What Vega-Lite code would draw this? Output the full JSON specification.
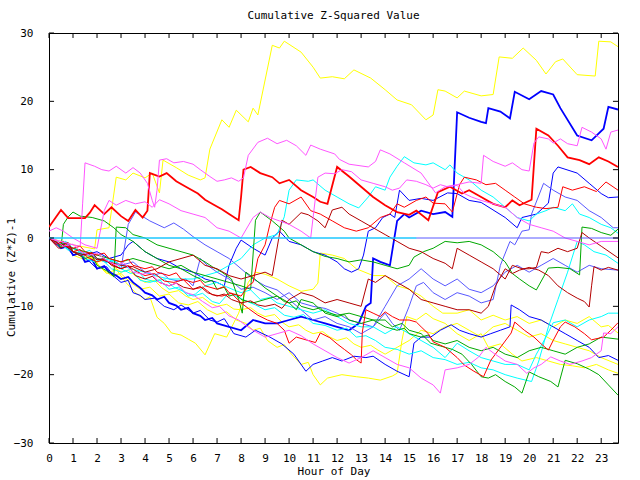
{
"$schema":"https://vega.github.io/schema/vega-lite/v6.json",
"width":569,"height":410,
"autosize":{"type":"none"},
"padding":{"left":49,"top":33,"right":22,"bottom":37},
"background":"white",
"title":{"text":"Cumulative Z-Squared Value","font":"DejaVu Sans Mono","fontSize":11,"fontWeight":"normal","color":"black","offset":6},
"config":{"view":{"stroke":"black","strokeWidth":1},"axis":{"labelFont":"DejaVu Sans Mono","titleFont":"DejaVu Sans Mono","labelFontSize":11,"titleFontSize":11,"titleFontWeight":"normal","labelColor":"black","titleColor":"black","domain":false,"grid":false,"ticks":false,"tickSize":0}},
"resolve":{"axis":{"x":"independent","y":"independent"}},
"layer":[
{"data":{"values":[
{"s":"Y1","h":0,"v":0},{"s":"Y1","h":1,"v":-1},{"s":"Y1","h":1.9,"v":-1.6},{"s":"Y1","h":2,"v":1.2},{"s":"Y1","h":2.5,"v":1.5},{"s":"Y1","h":2.8,"v":8.9},{"s":"Y1","h":3.2,"v":8.5},{"s":"Y1","h":3.5,"v":9.5},{"s":"Y1","h":4,"v":8.8},{"s":"Y1","h":4.3,"v":9.5},{"s":"Y1","h":4.6,"v":6.6},{"s":"Y1","h":4.75,"v":11.4},{"s":"Y1","h":5.3,"v":10.3},{"s":"Y1","h":5.8,"v":9.2},{"s":"Y1","h":6.3,"v":8.5},{"s":"Y1","h":6.5,"v":8.8},{"s":"Y1","h":6.7,"v":13},{"s":"Y1","h":7.2,"v":17.3},{"s":"Y1","h":7.5,"v":16.2},{"s":"Y1","h":7.8,"v":18.7},{"s":"Y1","h":8.3,"v":17},{"s":"Y1","h":8.5,"v":19},{"s":"Y1","h":8.7,"v":18},{"s":"Y1","h":9.3,"v":28.2},{"s":"Y1","h":9.6,"v":27.8},{"s":"Y1","h":9.8,"v":28.8},{"s":"Y1","h":10.5,"v":27.2},{"s":"Y1","h":11,"v":25},{"s":"Y1","h":11.3,"v":23.4},{"s":"Y1","h":11.8,"v":23.6},{"s":"Y1","h":12.3,"v":23.3},{"s":"Y1","h":12.7,"v":24.6},{"s":"Y1","h":13.4,"v":23.4},{"s":"Y1","h":14,"v":21.7},{"s":"Y1","h":14.5,"v":20.2},{"s":"Y1","h":15.1,"v":19.5},{"s":"Y1","h":15.7,"v":17.3},{"s":"Y1","h":16,"v":18},{"s":"Y1","h":16.2,"v":21.7},{"s":"Y1","h":16.5,"v":21.5},{"s":"Y1","h":17,"v":20.5},{"s":"Y1","h":17.3,"v":21.5},{"s":"Y1","h":18,"v":20.8},{"s":"Y1","h":18.5,"v":21},{"s":"Y1","h":18.75,"v":26.5},{"s":"Y1","h":19.3,"v":26.3},{"s":"Y1","h":19.75,"v":27.8},{"s":"Y1","h":20.3,"v":26},{"s":"Y1","h":20.7,"v":24},{"s":"Y1","h":21.1,"v":25.8},{"s":"Y1","h":21.4,"v":26.2},{"s":"Y1","h":22,"v":23.9},{"s":"Y1","h":22.75,"v":23.7},{"s":"Y1","h":22.9,"v":28.8},{"s":"Y1","h":23.4,"v":28.7},{"s":"Y1","h":23.7,"v":28},
{"s":"Y2","h":0,"v":0},{"s":"Y2","h":0.3,"v":-0.8},{"s":"Y2","h":0.6,"v":-0.5},{"s":"Y2","h":1,"v":-2},{"s":"Y2","h":1.4,"v":-2.8},{"s":"Y2","h":1.7,"v":-2.4},{"s":"Y2","h":2,"v":-3.8},{"s":"Y2","h":2.4,"v":-5.2},{"s":"Y2","h":2.8,"v":-4.6},{"s":"Y2","h":3.2,"v":-6.5},{"s":"Y2","h":3.6,"v":-8},{"s":"Y2","h":4,"v":-9},{"s":"Y2","h":4.2,"v":-8.6},{"s":"Y2","h":4.5,"v":-11.6},{"s":"Y2","h":4.8,"v":-12.5},{"s":"Y2","h":5.1,"v":-13.9},{"s":"Y2","h":5.5,"v":-14.2},{"s":"Y2","h":5.8,"v":-14.8},{"s":"Y2","h":6.1,"v":-15.4},{"s":"Y2","h":6.5,"v":-17.1},{"s":"Y2","h":6.9,"v":-14},{"s":"Y2","h":7.4,"v":-14.5},{"s":"Y2","h":7.9,"v":-11},{"s":"Y2","h":8.3,"v":-6.5},{"s":"Y2","h":8.6,"v":-5},{"s":"Y2","h":9,"v":-5.3},{"s":"Y2","h":9.5,"v":-6},{"s":"Y2","h":10,"v":-7},{"s":"Y2","h":10.5,"v":-7.8},{"s":"Y2","h":11,"v":-7.5},{"s":"Y2","h":11.2,"v":-6.6},{"s":"Y2","h":11.3,"v":-2.2},{"s":"Y2","h":11.8,"v":-2.5},{"s":"Y2","h":12.3,"v":-3},{"s":"Y2","h":12.8,"v":-4.5},{"s":"Y2","h":13.5,"v":-5.5},{"s":"Y2","h":14,"v":-5.5},{"s":"Y2","h":14.5,"v":-7},{"s":"Y2","h":15,"v":-7.5},{"s":"Y2","h":15.5,"v":-8.5},{"s":"Y2","h":16,"v":-10},{"s":"Y2","h":16.4,"v":-11},{"s":"Y2","h":17,"v":-11},{"s":"Y2","h":17.5,"v":-10.5},{"s":"Y2","h":18,"v":-12},{"s":"Y2","h":18.5,"v":-11.3},{"s":"Y2","h":19,"v":-12},{"s":"Y2","h":19.5,"v":-11.5},{"s":"Y2","h":20,"v":-12.5},{"s":"Y2","h":20.5,"v":-12},{"s":"Y2","h":21,"v":-13},{"s":"Y2","h":21.5,"v":-12},{"s":"Y2","h":22,"v":-12.5},{"s":"Y2","h":22.5,"v":-11.5},{"s":"Y2","h":23,"v":-13},{"s":"Y2","h":23.3,"v":-12.8},{"s":"Y2","h":23.7,"v":-13.9},
{"s":"Y3","h":0,"v":0},{"s":"Y3","h":0.4,"v":-1.2},{"s":"Y3","h":0.7,"v":-0.8},{"s":"Y3","h":1,"v":-2.5},{"s":"Y3","h":1.5,"v":-3.2},{"s":"Y3","h":1.8,"v":-2.8},{"s":"Y3","h":2.2,"v":-4.5},{"s":"Y3","h":2.6,"v":-5.5},{"s":"Y3","h":3,"v":-5.2},{"s":"Y3","h":3.4,"v":-6.5},{"s":"Y3","h":3.8,"v":-7.5},{"s":"Y3","h":4.2,"v":-7.2},{"s":"Y3","h":4.6,"v":-8.5},{"s":"Y3","h":5,"v":-8.2},{"s":"Y3","h":5.4,"v":-9.5},{"s":"Y3","h":5.8,"v":-9.8},{"s":"Y3","h":6.2,"v":-9.3},{"s":"Y3","h":6.6,"v":-10.5},{"s":"Y3","h":7,"v":-11.2},{"s":"Y3","h":7.4,"v":-10.8},{"s":"Y3","h":7.8,"v":-12},{"s":"Y3","h":8.2,"v":-12.5},{"s":"Y3","h":8.5,"v":-13.5},{"s":"Y3","h":8.8,"v":-13.2},{"s":"Y3","h":9.1,"v":-15},{"s":"Y3","h":9.5,"v":-16},{"s":"Y3","h":9.8,"v":-15.6},{"s":"Y3","h":10.1,"v":-17},{"s":"Y3","h":10.5,"v":-18.5},{"s":"Y3","h":10.8,"v":-18.2},{"s":"Y3","h":11,"v":-20},{"s":"Y3","h":11.3,"v":-21.5},{"s":"Y3","h":11.6,"v":-20.5},{"s":"Y3","h":12.2,"v":-20},{"s":"Y3","h":12.8,"v":-20.3},{"s":"Y3","h":13.3,"v":-20.5},{"s":"Y3","h":13.8,"v":-20.8},{"s":"Y3","h":14.3,"v":-20.2},{"s":"Y3","h":14.5,"v":-19.8},{"s":"Y3","h":14.7,"v":-15},{"s":"Y3","h":14.9,"v":-11.5},{"s":"Y3","h":15.3,"v":-12},{"s":"Y3","h":15.7,"v":-11},{"s":"Y3","h":16,"v":-11.8},{"s":"Y3","h":16.5,"v":-12.5},{"s":"Y3","h":17,"v":-14},{"s":"Y3","h":17.5,"v":-15},{"s":"Y3","h":18,"v":-14},{"s":"Y3","h":18.3,"v":-16},{"s":"Y3","h":18.8,"v":-15.5},{"s":"Y3","h":19.3,"v":-17},{"s":"Y3","h":19.7,"v":-18},{"s":"Y3","h":20.3,"v":-17.5},{"s":"Y3","h":20.8,"v":-18},{"s":"Y3","h":21.3,"v":-18.5},{"s":"Y3","h":21.8,"v":-18.7},{"s":"Y3","h":22.3,"v":-19},{"s":"Y3","h":22.8,"v":-18.5},{"s":"Y3","h":23.3,"v":-19.3},{"s":"Y3","h":23.7,"v":-19.8},
{"s":"Y4","h":0,"v":0},{"s":"Y4","h":0.4,"v":-0.6},{"s":"Y4","h":0.7,"v":-1.4},{"s":"Y4","h":1,"v":-2},{"s":"Y4","h":1.3,"v":-1.7},{"s":"Y4","h":1.7,"v":-2.8},{"s":"Y4","h":2,"v":-3.5},{"s":"Y4","h":2.4,"v":-3.2},{"s":"Y4","h":2.7,"v":-4.2},{"s":"Y4","h":3,"v":-5},{"s":"Y4","h":3.3,"v":-4.7},{"s":"Y4","h":3.7,"v":-5.8},{"s":"Y4","h":4,"v":-6.5},{"s":"Y4","h":4.4,"v":-6.2},{"s":"Y4","h":4.7,"v":-7.3},{"s":"Y4","h":5,"v":-8},{"s":"Y4","h":5.4,"v":-7.7},{"s":"Y4","h":5.7,"v":-8.5},{"s":"Y4","h":6,"v":-9},{"s":"Y4","h":6.4,"v":-8.7},{"s":"Y4","h":6.7,"v":-9.5},{"s":"Y4","h":7,"v":-10},{"s":"Y4","h":7.4,"v":-9.7},{"s":"Y4","h":7.7,"v":-10.4},{"s":"Y4","h":8,"v":-10.5},{"s":"Y4","h":8.4,"v":-10.2},{"s":"Y4","h":8.7,"v":-11},{"s":"Y4","h":9,"v":-11.5},{"s":"Y4","h":9.4,"v":-11.2},{"s":"Y4","h":9.7,"v":-12.3},{"s":"Y4","h":10,"v":-13},{"s":"Y4","h":10.4,"v":-12.7},{"s":"Y4","h":10.7,"v":-13.5},{"s":"Y4","h":11,"v":-14},{"s":"Y4","h":11.4,"v":-13.7},{"s":"Y4","h":11.7,"v":-14.5},{"s":"Y4","h":12,"v":-15},{"s":"Y4","h":12.4,"v":-14.6},{"s":"Y4","h":12.7,"v":-15.5},{"s":"Y4","h":13,"v":-16},{"s":"Y4","h":13.4,"v":-15.7},{"s":"Y4","h":13.7,"v":-16.4},{"s":"Y4","h":14,"v":-17},{"s":"Y4","h":14.5,"v":-16},{"s":"Y4","h":15,"v":-15},{"s":"Y4","h":15.5,"v":-13.5},{"s":"Y4","h":16,"v":-14},{"s":"Y4","h":16.5,"v":-13},{"s":"Y4","h":17,"v":-12.5},{"s":"Y4","h":17.5,"v":-13.5},{"s":"Y4","h":18,"v":-14.5},{"s":"Y4","h":18.5,"v":-13},{"s":"Y4","h":19,"v":-12.5},{"s":"Y4","h":19.5,"v":-13.5},{"s":"Y4","h":20,"v":-14.5},{"s":"Y4","h":20.5,"v":-14},{"s":"Y4","h":21,"v":-15},{"s":"Y4","h":21.5,"v":-15.5},{"s":"Y4","h":22,"v":-16},{"s":"Y4","h":22.5,"v":-16.5},{"s":"Y4","h":23,"v":-17.5},{"s":"Y4","h":23.7,"v":-18.5},
{"s":"B1","h":0,"v":0},{"s":"B1","h":0.3,"v":-0.7},{"s":"B1","h":0.5,"v":-1.5},{"s":"B1","h":0.8,"v":-1.2},{"s":"B1","h":1,"v":-2.5},{"s":"B1","h":1.3,"v":-2.2},{"s":"B1","h":1.5,"v":-3.5},{"s":"B1","h":1.8,"v":-3.2},{"s":"B1","h":2,"v":-4.5},{"s":"B1","h":2.3,"v":-4.1},{"s":"B1","h":2.5,"v":-5},{"s":"B1","h":2.8,"v":-5.5},{"s":"B1","h":3,"v":-6},{"s":"B1","h":3.3,"v":-5.7},{"s":"B1","h":3.5,"v":-6.5},{"s":"B1","h":3.8,"v":-7.3},{"s":"B1","h":4,"v":-8},{"s":"B1","h":4.3,"v":-8.4},{"s":"B1","h":4.5,"v":-9},{"s":"B1","h":4.8,"v":-8.6},{"s":"B1","h":5,"v":-9.5},{"s":"B1","h":5.3,"v":-9.9},{"s":"B1","h":5.5,"v":-10.5},{"s":"B1","h":5.8,"v":-10.2},{"s":"B1","h":6,"v":-11},{"s":"B1","h":6.3,"v":-11.4},{"s":"B1","h":6.5,"v":-12},{"s":"B1","h":6.8,"v":-11.7},{"s":"B1","h":7,"v":-12.5},{"s":"B1","h":7.5,"v":-13},{"s":"B1","h":8,"v":-13.5},{"s":"B1","h":8.5,"v":-12},{"s":"B1","h":9,"v":-12.5},{"s":"B1","h":9.5,"v":-12.5},{"s":"B1","h":10,"v":-12},{"s":"B1","h":10.5,"v":-11.5},{"s":"B1","h":11,"v":-12},{"s":"B1","h":11.5,"v":-12.5},{"s":"B1","h":12,"v":-13},{"s":"B1","h":12.5,"v":-13.5},{"s":"B1","h":12.9,"v":-12.5},{"s":"B1","h":13.2,"v":-10},{"s":"B1","h":13.4,"v":-9.5},{"s":"B1","h":13.5,"v":-3},{"s":"B1","h":13.8,"v":-3.5},{"s":"B1","h":14.2,"v":-4},{"s":"B1","h":14.5,"v":2.5},{"s":"B1","h":14.8,"v":3.5},{"s":"B1","h":15,"v":3},{"s":"B1","h":15.5,"v":4},{"s":"B1","h":16,"v":3.5},{"s":"B1","h":16.5,"v":3.8},{"s":"B1","h":16.8,"v":3.1},{"s":"B1","h":17,"v":18.4},{"s":"B1","h":17.5,"v":17.6},{"s":"B1","h":18,"v":17},{"s":"B1","h":18.2,"v":16.8},{"s":"B1","h":18.3,"v":19},{"s":"B1","h":18.8,"v":18.5},{"s":"B1","h":19.2,"v":17.5},{"s":"B1","h":19.4,"v":21.4},{"s":"B1","h":20,"v":20.3},{"s":"B1","h":20.5,"v":21.5},{"s":"B1","h":21,"v":21},{"s":"B1","h":21.3,"v":19},{"s":"B1","h":22,"v":15},{"s":"B1","h":22.6,"v":14.3},{"s":"B1","h":23.1,"v":16},{"s":"B1","h":23.3,"v":19.2},{"s":"B1","h":23.7,"v":18.8},
{"s":"B2","h":0,"v":0},{"s":"B2","h":0.5,"v":-1},{"s":"B2","h":1,"v":-2},{"s":"B2","h":1.5,"v":-2.5},{"s":"B2","h":2,"v":-2},{"s":"B2","h":2.5,"v":-3},{"s":"B2","h":3,"v":-2.5},{"s":"B2","h":3.3,"v":-1},{"s":"B2","h":3.5,"v":-0.5},{"s":"B2","h":4,"v":-2},{"s":"B2","h":4.5,"v":-3},{"s":"B2","h":5,"v":-3.5},{"s":"B2","h":5.5,"v":-4.5},{"s":"B2","h":6,"v":-5},{"s":"B2","h":6.5,"v":-6},{"s":"B2","h":7,"v":-6.5},{"s":"B2","h":7.3,"v":-7},{"s":"B2","h":7.5,"v":-4},{"s":"B2","h":7.8,"v":-1.5},{"s":"B2","h":8,"v":-0.3},{"s":"B2","h":8.5,"v":-1.5},{"s":"B2","h":9,"v":-2.5},{"s":"B2","h":9.3,"v":0},{"s":"B2","h":9.6,"v":1},{"s":"B2","h":10,"v":-0.5},{"s":"B2","h":10.5,"v":-1},{"s":"B2","h":11,"v":-2},{"s":"B2","h":11.5,"v":-2.5},{"s":"B2","h":12,"v":-3.5},{"s":"B2","h":12.3,"v":-4.5},{"s":"B2","h":12.6,"v":-5},{"s":"B2","h":12.9,"v":-4.5},{"s":"B2","h":13.1,"v":-2.5},{"s":"B2","h":13.3,"v":1},{"s":"B2","h":13.6,"v":1.5},{"s":"B2","h":13.9,"v":3},{"s":"B2","h":14.2,"v":3.5},{"s":"B2","h":14.4,"v":3},{"s":"B2","h":14.6,"v":7},{"s":"B2","h":15,"v":5.5},{"s":"B2","h":15.5,"v":5.8},{"s":"B2","h":16,"v":5.5},{"s":"B2","h":16.6,"v":6.6},{"s":"B2","h":17,"v":6.5},{"s":"B2","h":17.5,"v":5.5},{"s":"B2","h":18,"v":5.2},{"s":"B2","h":19,"v":3},{"s":"B2","h":19.5,"v":1.5},{"s":"B2","h":19.7,"v":3},{"s":"B2","h":20.3,"v":3.5},{"s":"B2","h":20.8,"v":5.1},{"s":"B2","h":21,"v":9.5},{"s":"B2","h":21.2,"v":10.4},{"s":"B2","h":22,"v":9.5},{"s":"B2","h":22.5,"v":8},{"s":"B2","h":23,"v":6.5},{"s":"B2","h":23.3,"v":5.9},{"s":"B2","h":23.7,"v":6},
{"s":"B3","h":0,"v":0},{"s":"B3","h":0.3,"v":-1},{"s":"B3","h":0.6,"v":-0.7},{"s":"B3","h":1,"v":-2.5},{"s":"B3","h":1.3,"v":-2.3},{"s":"B3","h":1.7,"v":-3.5},{"s":"B3","h":2,"v":-4.5},{"s":"B3","h":2.4,"v":-4.2},{"s":"B3","h":2.7,"v":-5.6},{"s":"B3","h":3,"v":-6.5},{"s":"B3","h":3.3,"v":-6.2},{"s":"B3","h":3.5,"v":-8},{"s":"B3","h":3.8,"v":-8.4},{"s":"B3","h":4,"v":-9},{"s":"B3","h":4.4,"v":-8.8},{"s":"B3","h":4.8,"v":-10},{"s":"B3","h":5.2,"v":-10.5},{"s":"B3","h":5.5,"v":-9.8},{"s":"B3","h":6,"v":-11},{"s":"B3","h":6.3,"v":-10.6},{"s":"B3","h":6.7,"v":-12},{"s":"B3","h":7,"v":-12.3},{"s":"B3","h":7.3,"v":-11.8},{"s":"B3","h":7.7,"v":-14},{"s":"B3","h":8.2,"v":-14.5},{"s":"B3","h":8.6,"v":-13.5},{"s":"B3","h":9.2,"v":-14.5},{"s":"B3","h":9.7,"v":-15.5},{"s":"B3","h":10.2,"v":-17},{"s":"B3","h":10.7,"v":-19.5},{"s":"B3","h":11,"v":-18.5},{"s":"B3","h":11.4,"v":-18},{"s":"B3","h":11.8,"v":-17.5},{"s":"B3","h":12.2,"v":-18},{"s":"B3","h":12.7,"v":-17.3},{"s":"B3","h":13.2,"v":-17.5},{"s":"B3","h":13.5,"v":-17.3},{"s":"B3","h":14,"v":-18.5},{"s":"B3","h":14.5,"v":-19.5},{"s":"B3","h":15,"v":-20.3},{"s":"B3","h":15.2,"v":-15.4},{"s":"B3","h":15.5,"v":-14.5},{"s":"B3","h":15.9,"v":-14.5},{"s":"B3","h":16.3,"v":-13.5},{"s":"B3","h":16.75,"v":-12.7},{"s":"B3","h":17.1,"v":-13.5},{"s":"B3","h":17.5,"v":-14},{"s":"B3","h":18,"v":-14.5},{"s":"B3","h":18.4,"v":-14},{"s":"B3","h":18.8,"v":-13.5},{"s":"B3","h":19.2,"v":-13},{"s":"B3","h":19.25,"v":-9.8},{"s":"B3","h":19.6,"v":-10.5},{"s":"B3","h":20,"v":-11.5},{"s":"B3","h":20.5,"v":-12},{"s":"B3","h":21,"v":-13},{"s":"B3","h":21.5,"v":-14},{"s":"B3","h":22,"v":-15},{"s":"B3","h":22.5,"v":-16},{"s":"B3","h":22.9,"v":-17.5},{"s":"B3","h":23.3,"v":-17.2},{"s":"B3","h":23.7,"v":-17.9},
{"s":"LB1","h":0,"v":0},{"s":"LB1","h":0.5,"v":-1},{"s":"LB1","h":1,"v":-1.5},{"s":"LB1","h":1.5,"v":-2.3},{"s":"LB1","h":2,"v":-3},{"s":"LB1","h":2.5,"v":-3.6},{"s":"LB1","h":3,"v":-4.5},{"s":"LB1","h":3.3,"v":2},{"s":"LB1","h":3.6,"v":3.8},{"s":"LB1","h":4.2,"v":2.5},{"s":"LB1","h":4.8,"v":1.5},{"s":"LB1","h":5.2,"v":2.2},{"s":"LB1","h":5.6,"v":1.3},{"s":"LB1","h":6,"v":0.2},{"s":"LB1","h":6.5,"v":-1},{"s":"LB1","h":7,"v":-2},{"s":"LB1","h":7.5,"v":-3},{"s":"LB1","h":8,"v":-4.5},{"s":"LB1","h":8.5,"v":-6},{"s":"LB1","h":9,"v":-7},{"s":"LB1","h":9.5,"v":-7.6},{"s":"LB1","h":10,"v":-9},{"s":"LB1","h":10.5,"v":-10.5},{"s":"LB1","h":11,"v":-12},{"s":"LB1","h":11.5,"v":-11.5},{"s":"LB1","h":12,"v":-12.5},{"s":"LB1","h":12.5,"v":-13},{"s":"LB1","h":13,"v":-14},{"s":"LB1","h":13.5,"v":-13},{"s":"LB1","h":14,"v":-11},{"s":"LB1","h":14.3,"v":-12.5},{"s":"LB1","h":14.6,"v":-13.5},{"s":"LB1","h":15,"v":-10},{"s":"LB1","h":15.3,"v":-7},{"s":"LB1","h":15.6,"v":-6.5},{"s":"LB1","h":16,"v":-8},{"s":"LB1","h":16.5,"v":-9},{"s":"LB1","h":17,"v":-8},{"s":"LB1","h":17.5,"v":-8.5},{"s":"LB1","h":18,"v":-9.5},{"s":"LB1","h":18.5,"v":-9},{"s":"LB1","h":18.8,"v":-4},{"s":"LB1","h":19.2,"v":-0.5},{"s":"LB1","h":19.4,"v":-1},{"s":"LB1","h":19.7,"v":1},{"s":"LB1","h":20,"v":1.2},{"s":"LB1","h":20.1,"v":3.5},{"s":"LB1","h":20.6,"v":8},{"s":"LB1","h":21,"v":7},{"s":"LB1","h":21.5,"v":6},{"s":"LB1","h":22,"v":5.5},{"s":"LB1","h":22.5,"v":4},{"s":"LB1","h":23,"v":3},{"s":"LB1","h":23.5,"v":1.5},{"s":"LB1","h":23.7,"v":1.5},
{"s":"LB2","h":0,"v":0},{"s":"LB2","h":0.4,"v":-1},{"s":"LB2","h":0.7,"v":-0.6},{"s":"LB2","h":1,"v":-2},{"s":"LB2","h":1.4,"v":-2.5},{"s":"LB2","h":1.7,"v":-2.2},{"s":"LB2","h":2,"v":-3},{"s":"LB2","h":2.4,"v":-3.6},{"s":"LB2","h":2.7,"v":-3.3},{"s":"LB2","h":3,"v":-4},{"s":"LB2","h":3.5,"v":-3.5},{"s":"LB2","h":4,"v":-5},{"s":"LB2","h":4.4,"v":-5.4},{"s":"LB2","h":4.7,"v":-5.1},{"s":"LB2","h":5,"v":-6},{"s":"LB2","h":5.4,"v":-6.3},{"s":"LB2","h":5.7,"v":-6},{"s":"LB2","h":6,"v":-7},{"s":"LB2","h":6.3,"v":-3},{"s":"LB2","h":6.6,"v":-4},{"s":"LB2","h":7,"v":-5},{"s":"LB2","h":7.5,"v":-6},{"s":"LB2","h":8,"v":-7.5},{"s":"LB2","h":8.5,"v":-7.2},{"s":"LB2","h":9,"v":-8},{"s":"LB2","h":9.5,"v":-9},{"s":"LB2","h":10,"v":-8},{"s":"LB2","h":10.5,"v":-9.5},{"s":"LB2","h":11,"v":-10},{"s":"LB2","h":11.5,"v":-10.3},{"s":"LB2","h":12,"v":-11},{"s":"LB2","h":12.5,"v":-12},{"s":"LB2","h":13,"v":-12.5},{"s":"LB2","h":13.5,"v":-13},{"s":"LB2","h":14,"v":-10},{"s":"LB2","h":14.5,"v":-7},{"s":"LB2","h":15,"v":-6},{"s":"LB2","h":15.5,"v":-4.5},{"s":"LB2","h":16,"v":-6},{"s":"LB2","h":16.5,"v":-7},{"s":"LB2","h":17,"v":-6},{"s":"LB2","h":17.5,"v":-7.5},{"s":"LB2","h":18,"v":-8},{"s":"LB2","h":18.5,"v":-7},{"s":"LB2","h":19,"v":-5},{"s":"LB2","h":19.5,"v":-4},{"s":"LB2","h":20,"v":-5},{"s":"LB2","h":20.5,"v":-4},{"s":"LB2","h":21,"v":-3},{"s":"LB2","h":21.5,"v":-4},{"s":"LB2","h":22,"v":-5},{"s":"LB2","h":22.5,"v":-4},{"s":"LB2","h":23,"v":-4.5},{"s":"LB2","h":23.7,"v":-4.7},
{"s":"C1","h":0,"v":0},{"s":"C1","h":0.5,"v":-1},{"s":"C1","h":1,"v":-2},{"s":"C1","h":1.5,"v":-2.3},{"s":"C1","h":2,"v":-3},{"s":"C1","h":2.5,"v":-3.2},{"s":"C1","h":3,"v":-4},{"s":"C1","h":3.5,"v":-4.6},{"s":"C1","h":4,"v":-5},{"s":"C1","h":4.5,"v":-5.6},{"s":"C1","h":5,"v":-6},{"s":"C1","h":6,"v":-6},{"s":"C1","h":7,"v":-5},{"s":"C1","h":7.5,"v":-4},{"s":"C1","h":8,"v":-3},{"s":"C1","h":8.5,"v":-1},{"s":"C1","h":9,"v":0},{"s":"C1","h":9.5,"v":0.5},{"s":"C1","h":9.8,"v":3.1},{"s":"C1","h":10,"v":7},{"s":"C1","h":10.3,"v":8.5},{"s":"C1","h":10.8,"v":8.3},{"s":"C1","h":11,"v":8.5},{"s":"C1","h":11.5,"v":7},{"s":"C1","h":12,"v":6},{"s":"C1","h":12.5,"v":5},{"s":"C1","h":12.9,"v":4.4},{"s":"C1","h":13.3,"v":6},{"s":"C1","h":13.6,"v":7.5},{"s":"C1","h":14,"v":7},{"s":"C1","h":14.2,"v":8.9},{"s":"C1","h":14.5,"v":10.5},{"s":"C1","h":14.8,"v":11.9},{"s":"C1","h":15.2,"v":11},{"s":"C1","h":15.7,"v":10.7},{"s":"C1","h":16,"v":11},{"s":"C1","h":16.5,"v":10},{"s":"C1","h":16.7,"v":10.7},{"s":"C1","h":17,"v":9.5},{"s":"C1","h":17.5,"v":8.5},{"s":"C1","h":18,"v":7},{"s":"C1","h":18.5,"v":6},{"s":"C1","h":19,"v":4.5},{"s":"C1","h":19.5,"v":3},{"s":"C1","h":20,"v":2.5},{"s":"C1","h":20.3,"v":3.5},{"s":"C1","h":20.7,"v":4},{"s":"C1","h":21,"v":4.5},{"s":"C1","h":21.5,"v":4},{"s":"C1","h":21.8,"v":5},{"s":"C1","h":22.1,"v":3.5},{"s":"C1","h":22.5,"v":3},{"s":"C1","h":23,"v":2},{"s":"C1","h":23.4,"v":1.5},{"s":"C1","h":23.7,"v":0.7},
{"s":"C2","h":0,"v":0},{"s":"C2","h":0.4,"v":-0.6},{"s":"C2","h":0.8,"v":-1.8},{"s":"C2","h":1.1,"v":-1.5},{"s":"C2","h":1.5,"v":-3},{"s":"C2","h":1.9,"v":-3.5},{"s":"C2","h":2.2,"v":-3.1},{"s":"C2","h":2.6,"v":-4.5},{"s":"C2","h":3,"v":-5},{"s":"C2","h":3.4,"v":-4.6},{"s":"C2","h":3.8,"v":-6.2},{"s":"C2","h":4.2,"v":-6.5},{"s":"C2","h":4.6,"v":-6.1},{"s":"C2","h":5,"v":-7.5},{"s":"C2","h":5.4,"v":-7.2},{"s":"C2","h":5.8,"v":-8.5},{"s":"C2","h":6.1,"v":-8.2},{"s":"C2","h":6.5,"v":-7},{"s":"C2","h":7,"v":-6.5},{"s":"C2","h":7.3,"v":-7},{"s":"C2","h":7.7,"v":-7.6},{"s":"C2","h":8,"v":-8},{"s":"C2","h":8.4,"v":-7.6},{"s":"C2","h":8.8,"v":-9},{"s":"C2","h":9.2,"v":-8.7},{"s":"C2","h":9.5,"v":-9.5},{"s":"C2","h":10,"v":-10},{"s":"C2","h":10.5,"v":-10.5},{"s":"C2","h":11,"v":-11},{"s":"C2","h":11.5,"v":-10.5},{"s":"C2","h":12,"v":-11.5},{"s":"C2","h":12.5,"v":-12.5},{"s":"C2","h":13,"v":-13},{"s":"C2","h":13.5,"v":-13},{"s":"C2","h":14,"v":-14},{"s":"C2","h":14.5,"v":-13},{"s":"C2","h":15,"v":-14},{"s":"C2","h":15.5,"v":-15},{"s":"C2","h":16,"v":-16},{"s":"C2","h":16.5,"v":-17.5},{"s":"C2","h":17,"v":-15.4},{"s":"C2","h":17.5,"v":-16.5},{"s":"C2","h":18,"v":-17.5},{"s":"C2","h":18.5,"v":-18},{"s":"C2","h":19,"v":-18.5},{"s":"C2","h":19.5,"v":-18.5},{"s":"C2","h":20,"v":-19.3},{"s":"C2","h":20.3,"v":-17},{"s":"C2","h":20.7,"v":-14.5},{"s":"C2","h":21,"v":-12.4},{"s":"C2","h":21.5,"v":-12},{"s":"C2","h":22,"v":-13},{"s":"C2","h":22.5,"v":-12},{"s":"C2","h":23,"v":-11.5},{"s":"C2","h":23.3,"v":-11},{"s":"C2","h":23.7,"v":-11},
{"s":"C3","h":0,"v":0},{"s":"C3","h":0.4,"v":-0.9},{"s":"C3","h":0.7,"v":-0.5},{"s":"C3","h":1,"v":-1.5},{"s":"C3","h":1.4,"v":-2.2},{"s":"C3","h":1.7,"v":-1.8},{"s":"C3","h":2,"v":-3},{"s":"C3","h":2.4,"v":-3.6},{"s":"C3","h":2.7,"v":-3.2},{"s":"C3","h":3,"v":-4.5},{"s":"C3","h":3.4,"v":-5.2},{"s":"C3","h":3.7,"v":-4.8},{"s":"C3","h":4,"v":-6},{"s":"C3","h":4.4,"v":-6.4},{"s":"C3","h":4.8,"v":-6},{"s":"C3","h":5.2,"v":-7.2},{"s":"C3","h":5.6,"v":-7.8},{"s":"C3","h":6,"v":-8.5},{"s":"C3","h":6.4,"v":-8.1},{"s":"C3","h":6.8,"v":-9.3},{"s":"C3","h":7.1,"v":-9.6},{"s":"C3","h":7.5,"v":-8},{"s":"C3","h":7.8,"v":-8.5},{"s":"C3","h":8.2,"v":-9.2},{"s":"C3","h":8.6,"v":-9.8},{"s":"C3","h":9,"v":-10.5},{"s":"C3","h":9.4,"v":-10.2},{"s":"C3","h":9.8,"v":-11.3},{"s":"C3","h":10.2,"v":-11.6},{"s":"C3","h":10.6,"v":-11.2},{"s":"C3","h":11,"v":-12.5},{"s":"C3","h":11.5,"v":-12.8},{"s":"C3","h":12,"v":-13.5},{"s":"C3","h":12.4,"v":-13.2},{"s":"C3","h":12.8,"v":-14.5},{"s":"C3","h":13.2,"v":-14.3},{"s":"C3","h":13.6,"v":-15},{"s":"C3","h":14,"v":-16},{"s":"C3","h":14.5,"v":-16.3},{"s":"C3","h":15,"v":-17},{"s":"C3","h":15.5,"v":-16.5},{"s":"C3","h":16,"v":-17.5},{"s":"C3","h":16.5,"v":-17.8},{"s":"C3","h":17,"v":-18.5},{"s":"C3","h":17.5,"v":-18.2},{"s":"C3","h":18,"v":-19},{"s":"C3","h":18.5,"v":-19.3},{"s":"C3","h":19,"v":-20},{"s":"C3","h":19.5,"v":-20.5},{"s":"C3","h":20.1,"v":-21},{"s":"C3","h":20.4,"v":-18},{"s":"C3","h":20.8,"v":-13},{"s":"C3","h":21.2,"v":-9},{"s":"C3","h":21.6,"v":-5},{"s":"C3","h":22,"v":-0.5},{"s":"C3","h":22.3,"v":-1},{"s":"C3","h":22.7,"v":-2},{"s":"C3","h":23.2,"v":-2.5},{"s":"C3","h":23.7,"v":-3.7},
{"s":"G1","h":0,"v":0},{"s":"G1","h":0.3,"v":-0.5},{"s":"G1","h":0.5,"v":-1.5},{"s":"G1","h":0.6,"v":2},{"s":"G1","h":0.8,"v":3.1},{"s":"G1","h":1,"v":3.8},{"s":"G1","h":1.3,"v":3.2},{"s":"G1","h":1.8,"v":3},{"s":"G1","h":2.3,"v":2.5},{"s":"G1","h":2.7,"v":1.5},{"s":"G1","h":3,"v":0.5},{"s":"G1","h":3.5,"v":-0.5},{"s":"G1","h":4,"v":-2},{"s":"G1","h":4.5,"v":-3},{"s":"G1","h":5,"v":-4},{"s":"G1","h":5.5,"v":-4.5},{"s":"G1","h":6,"v":-5.5},{"s":"G1","h":6.3,"v":-6},{"s":"G1","h":6.5,"v":-6.5},{"s":"G1","h":6.8,"v":-6.2},{"s":"G1","h":7,"v":-7.5},{"s":"G1","h":7.3,"v":-7.2},{"s":"G1","h":7.5,"v":-8.5},{"s":"G1","h":7.8,"v":-8.2},{"s":"G1","h":8,"v":-9},{"s":"G1","h":8.5,"v":-9.5},{"s":"G1","h":9,"v":-9},{"s":"G1","h":9.5,"v":-8.5},{"s":"G1","h":9.8,"v":-9.3},{"s":"G1","h":10,"v":-9.5},{"s":"G1","h":10.3,"v":-9.2},{"s":"G1","h":10.5,"v":-10},{"s":"G1","h":11,"v":-10.5},{"s":"G1","h":11.3,"v":-10.2},{"s":"G1","h":11.5,"v":-11},{"s":"G1","h":12,"v":-11.5},{"s":"G1","h":12.3,"v":-11.2},{"s":"G1","h":12.5,"v":-12},{"s":"G1","h":13,"v":-12.5},{"s":"G1","h":13.5,"v":-12},{"s":"G1","h":13.8,"v":-12.6},{"s":"G1","h":14,"v":-13},{"s":"G1","h":14.5,"v":-13.5},{"s":"G1","h":14.8,"v":-13.2},{"s":"G1","h":15,"v":-14},{"s":"G1","h":15.5,"v":-14.5},{"s":"G1","h":15.8,"v":-14.2},{"s":"G1","h":16,"v":-15},{"s":"G1","h":16.5,"v":-15.5},{"s":"G1","h":17,"v":-15},{"s":"G1","h":17.5,"v":-16},{"s":"G1","h":18,"v":-16.5},{"s":"G1","h":18.5,"v":-16},{"s":"G1","h":19,"v":-17},{"s":"G1","h":19.5,"v":-17.5},{"s":"G1","h":20,"v":-16.5},{"s":"G1","h":20.5,"v":-16},{"s":"G1","h":21,"v":-16.5},{"s":"G1","h":21.5,"v":-17},{"s":"G1","h":22,"v":-16},{"s":"G1","h":22.5,"v":-15.5},{"s":"G1","h":23,"v":-14.5},{"s":"G1","h":23.7,"v":-14.8},
{"s":"G2","h":0,"v":0},{"s":"G2","h":0.5,"v":-1},{"s":"G2","h":0.8,"v":-0.7},{"s":"G2","h":1,"v":-2},{"s":"G2","h":1.5,"v":-3},{"s":"G2","h":1.8,"v":-2.6},{"s":"G2","h":2,"v":-4},{"s":"G2","h":2.5,"v":-5},{"s":"G2","h":2.7,"v":-5.7},{"s":"G2","h":2.8,"v":1.6},{"s":"G2","h":3.2,"v":1.5},{"s":"G2","h":3.5,"v":0.5},{"s":"G2","h":4,"v":0},{"s":"G2","h":4.5,"v":-1},{"s":"G2","h":5,"v":-1.5},{"s":"G2","h":5.5,"v":-2},{"s":"G2","h":6,"v":-2.5},{"s":"G2","h":6.5,"v":-3.5},{"s":"G2","h":6.8,"v":-4.2},{"s":"G2","h":7.2,"v":-5},{"s":"G2","h":7.6,"v":-6},{"s":"G2","h":7.9,"v":-9},{"s":"G2","h":8.05,"v":-11},{"s":"G2","h":8.2,"v":-5},{"s":"G2","h":8.5,"v":-5.8},{"s":"G2","h":9,"v":-7.3},{"s":"G2","h":9.5,"v":-8.5},{"s":"G2","h":10,"v":-9.5},{"s":"G2","h":10.3,"v":-10.5},{"s":"G2","h":10.5,"v":-9},{"s":"G2","h":11,"v":-9.5},{"s":"G2","h":11.3,"v":-10.5},{"s":"G2","h":11.7,"v":-11},{"s":"G2","h":12,"v":-11.3},{"s":"G2","h":12.5,"v":-11},{"s":"G2","h":13,"v":-11.5},{"s":"G2","h":13.5,"v":-12},{"s":"G2","h":14,"v":-12},{"s":"G2","h":14.3,"v":-13},{"s":"G2","h":14.7,"v":-12.5},{"s":"G2","h":15,"v":-13.5},{"s":"G2","h":15.5,"v":-14},{"s":"G2","h":15.9,"v":-15.4},{"s":"G2","h":16.3,"v":-15.8},{"s":"G2","h":16.8,"v":-16.3},{"s":"G2","h":17.2,"v":-17},{"s":"G2","h":17.6,"v":-18.5},{"s":"G2","h":18,"v":-20.3},{"s":"G2","h":18.3,"v":-20.5},{"s":"G2","h":18.6,"v":-20},{"s":"G2","h":19,"v":-21},{"s":"G2","h":19.4,"v":-21.8},{"s":"G2","h":19.7,"v":-22.7},{"s":"G2","h":20,"v":-19.6},{"s":"G2","h":20.4,"v":-20.3},{"s":"G2","h":20.9,"v":-21},{"s":"G2","h":21.2,"v":-21.8},{"s":"G2","h":21.5,"v":-17.9},{"s":"G2","h":22,"v":-18.4},{"s":"G2","h":22.5,"v":-19.2},{"s":"G2","h":22.9,"v":-20},{"s":"G2","h":23.3,"v":-21.5},{"s":"G2","h":23.7,"v":-23},
{"s":"G4","h":0,"v":0},{"s":"G4","h":0.5,"v":-0.8},{"s":"G4","h":1,"v":-1.5},{"s":"G4","h":1.5,"v":-2},{"s":"G4","h":2,"v":-2.5},{"s":"G4","h":2.5,"v":-3},{"s":"G4","h":3,"v":-3.5},{"s":"G4","h":3.5,"v":-3},{"s":"G4","h":4,"v":-3.5},{"s":"G4","h":4.5,"v":-4},{"s":"G4","h":5,"v":-4.5},{"s":"G4","h":5.5,"v":-4},{"s":"G4","h":6,"v":-5},{"s":"G4","h":6.5,"v":-5.5},{"s":"G4","h":7,"v":-6},{"s":"G4","h":7.5,"v":-6.5},{"s":"G4","h":8,"v":-7},{"s":"G4","h":8.4,"v":-7.5},{"s":"G4","h":8.6,"v":2.6},{"s":"G4","h":8.8,"v":3.8},{"s":"G4","h":9.3,"v":2.5},{"s":"G4","h":9.8,"v":1},{"s":"G4","h":10,"v":0},{"s":"G4","h":10.5,"v":-1},{"s":"G4","h":11,"v":-2},{"s":"G4","h":11.5,"v":-2.7},{"s":"G4","h":12,"v":-3},{"s":"G4","h":12.5,"v":-3.5},{"s":"G4","h":13,"v":-3.2},{"s":"G4","h":13.5,"v":-3.5},{"s":"G4","h":14,"v":-4},{"s":"G4","h":14.5,"v":-4.5},{"s":"G4","h":15,"v":-4},{"s":"G4","h":15.2,"v":-2.8},{"s":"G4","h":15.6,"v":-2},{"s":"G4","h":16,"v":-1.5},{"s":"G4","h":16.5,"v":-0.5},{"s":"G4","h":17,"v":-0.7},{"s":"G4","h":17.5,"v":-0.5},{"s":"G4","h":18,"v":-1},{"s":"G4","h":18.5,"v":-2},{"s":"G4","h":19,"v":-3.5},{"s":"G4","h":19.3,"v":-5.2},{"s":"G4","h":19.6,"v":-6},{"s":"G4","h":20,"v":-7},{"s":"G4","h":20.3,"v":-7.6},{"s":"G4","h":20.6,"v":-5.7},{"s":"G4","h":20.8,"v":-4.4},{"s":"G4","h":21.2,"v":-4.3},{"s":"G4","h":21.7,"v":-4.5},{"s":"G4","h":22.1,"v":-5.4},{"s":"G4","h":22.2,"v":1.6},{"s":"G4","h":22.6,"v":1.4},{"s":"G4","h":23,"v":0.8},{"s":"G4","h":23.4,"v":0.4},{"s":"G4","h":23.7,"v":1.3},
{"s":"R1","h":0,"v":1.6},{"s":"R1","h":0.5,"v":4.1},{"s":"R1","h":0.8,"v":2.9},{"s":"R1","h":1.5,"v":2.9},{"s":"R1","h":1.7,"v":3.7},{"s":"R1","h":1.9,"v":4.8},{"s":"R1","h":2.3,"v":3.5},{"s":"R1","h":2.6,"v":4.5},{"s":"R1","h":3,"v":3.2},{"s":"R1","h":3.3,"v":2.5},{"s":"R1","h":3.6,"v":4.1},{"s":"R1","h":3.9,"v":3},{"s":"R1","h":4.1,"v":4},{"s":"R1","h":4.2,"v":9.5},{"s":"R1","h":4.6,"v":9},{"s":"R1","h":4.9,"v":9.5},{"s":"R1","h":5.3,"v":8.3},{"s":"R1","h":5.7,"v":7.5},{"s":"R1","h":6.2,"v":6.5},{"s":"R1","h":6.5,"v":5.6},{"s":"R1","h":6.9,"v":4.8},{"s":"R1","h":7.2,"v":4.2},{"s":"R1","h":7.5,"v":3.5},{"s":"R1","h":7.9,"v":2.6},{"s":"R1","h":8,"v":6},{"s":"R1","h":8.1,"v":10},{"s":"R1","h":8.4,"v":10.4},{"s":"R1","h":8.8,"v":9.5},{"s":"R1","h":9.3,"v":8.9},{"s":"R1","h":9.6,"v":8},{"s":"R1","h":10,"v":8.5},{"s":"R1","h":10.5,"v":7},{"s":"R1","h":11,"v":6},{"s":"R1","h":11.3,"v":5.3},{"s":"R1","h":11.6,"v":5},{"s":"R1","h":12,"v":10.4},{"s":"R1","h":12.5,"v":9},{"s":"R1","h":13,"v":7.5},{"s":"R1","h":13.5,"v":6},{"s":"R1","h":14,"v":4.8},{"s":"R1","h":14.5,"v":3.8},{"s":"R1","h":15,"v":3.4},{"s":"R1","h":15.3,"v":4},{"s":"R1","h":15.8,"v":2.6},{"s":"R1","h":16.2,"v":6.7},{"s":"R1","h":16.7,"v":7.5},{"s":"R1","h":17.2,"v":6.5},{"s":"R1","h":17.5,"v":7},{"s":"R1","h":18,"v":6},{"s":"R1","h":18.5,"v":5},{"s":"R1","h":19,"v":4.5},{"s":"R1","h":19.3,"v":5.5},{"s":"R1","h":19.6,"v":4.8},{"s":"R1","h":20.1,"v":5.6},{"s":"R1","h":20.3,"v":16},{"s":"R1","h":20.8,"v":15},{"s":"R1","h":21.2,"v":13.5},{"s":"R1","h":21.6,"v":11.8},{"s":"R1","h":22.1,"v":11.4},{"s":"R1","h":22.5,"v":10.8},{"s":"R1","h":22.9,"v":11.8},{"s":"R1","h":23.3,"v":11.2},{"s":"R1","h":23.7,"v":10.4},
{"s":"R2","h":0,"v":0},{"s":"R2","h":0.5,"v":-1},{"s":"R2","h":1,"v":-1.5},{"s":"R2","h":1.3,"v":-1.2},{"s":"R2","h":1.5,"v":-2},{"s":"R2","h":2,"v":-2.5},{"s":"R2","h":2.3,"v":-2.2},{"s":"R2","h":2.5,"v":-3},{"s":"R2","h":3,"v":-3.5},{"s":"R2","h":3.3,"v":-3.1},{"s":"R2","h":3.5,"v":-4},{"s":"R2","h":4,"v":-4.5},{"s":"R2","h":4.3,"v":-4.2},{"s":"R2","h":4.5,"v":-5},{"s":"R2","h":5,"v":-5.5},{"s":"R2","h":5.3,"v":-5.1},{"s":"R2","h":5.5,"v":-6},{"s":"R2","h":6,"v":-6.5},{"s":"R2","h":6.3,"v":-6.2},{"s":"R2","h":6.5,"v":-7},{"s":"R2","h":7,"v":-7.5},{"s":"R2","h":7.3,"v":-7.1},{"s":"R2","h":7.5,"v":-8},{"s":"R2","h":8,"v":-8.5},{"s":"R2","h":8.3,"v":-7},{"s":"R2","h":8.5,"v":-6.5},{"s":"R2","h":8.7,"v":-3},{"s":"R2","h":9,"v":-1},{"s":"R2","h":9.2,"v":2},{"s":"R2","h":9.4,"v":4.5},{"s":"R2","h":9.6,"v":5.5},{"s":"R2","h":10,"v":5},{"s":"R2","h":10.5,"v":6},{"s":"R2","h":10.9,"v":4},{"s":"R2","h":11.3,"v":3.5},{"s":"R2","h":11.8,"v":2.5},{"s":"R2","h":12.3,"v":1.5},{"s":"R2","h":12.8,"v":1},{"s":"R2","h":13.3,"v":1.5},{"s":"R2","h":13.8,"v":3},{"s":"R2","h":14.2,"v":3.5},{"s":"R2","h":14.5,"v":5},{"s":"R2","h":14.8,"v":4.5},{"s":"R2","h":15.3,"v":5.5},{"s":"R2","h":15.7,"v":6},{"s":"R2","h":16,"v":5.1},{"s":"R2","h":16.5,"v":5},{"s":"R2","h":16.8,"v":3.8},{"s":"R2","h":17.1,"v":7.8},{"s":"R2","h":17.3,"v":8.9},{"s":"R2","h":17.8,"v":8.5},{"s":"R2","h":18.2,"v":7.8},{"s":"R2","h":18.6,"v":8},{"s":"R2","h":19,"v":7},{"s":"R2","h":19.4,"v":6},{"s":"R2","h":19.8,"v":5},{"s":"R2","h":20.3,"v":4.5},{"s":"R2","h":20.7,"v":4.3},{"s":"R2","h":21.2,"v":4.5},{"s":"R2","h":21.4,"v":7.5},{"s":"R2","h":21.8,"v":7},{"s":"R2","h":22.3,"v":7.5},{"s":"R2","h":22.8,"v":6.8},{"s":"R2","h":23.2,"v":8.2},{"s":"R2","h":23.7,"v":7},
{"s":"R3","h":0,"v":0},{"s":"R3","h":0.3,"v":-0.9},{"s":"R3","h":0.6,"v":-0.5},{"s":"R3","h":1,"v":-2},{"s":"R3","h":1.3,"v":-1.7},{"s":"R3","h":1.6,"v":-2.8},{"s":"R3","h":2,"v":-3.5},{"s":"R3","h":2.3,"v":-3.1},{"s":"R3","h":2.7,"v":-4},{"s":"R3","h":3,"v":-4.5},{"s":"R3","h":3.3,"v":-4.1},{"s":"R3","h":3.7,"v":-5},{"s":"R3","h":4,"v":-5.5},{"s":"R3","h":4.4,"v":-5.2},{"s":"R3","h":4.8,"v":-6.3},{"s":"R3","h":5.2,"v":-6.5},{"s":"R3","h":5.6,"v":-6.1},{"s":"R3","h":6,"v":-7.5},{"s":"R3","h":6.4,"v":-7.2},{"s":"R3","h":6.8,"v":-8.3},{"s":"R3","h":7.2,"v":-8.5},{"s":"R3","h":7.6,"v":-8.1},{"s":"R3","h":8,"v":-9.5},{"s":"R3","h":8.3,"v":-10.3},{"s":"R3","h":8.7,"v":-11.3},{"s":"R3","h":9.1,"v":-12},{"s":"R3","h":9.5,"v":-12.5},{"s":"R3","h":9.8,"v":-13.5},{"s":"R3","h":10,"v":-15.4},{"s":"R3","h":10.3,"v":-14.5},{"s":"R3","h":10.8,"v":-15},{"s":"R3","h":11.1,"v":-15.3},{"s":"R3","h":11.3,"v":-13.9},{"s":"R3","h":11.7,"v":-14.6},{"s":"R3","h":12,"v":-15.5},{"s":"R3","h":12.3,"v":-16.3},{"s":"R3","h":12.6,"v":-17.1},{"s":"R3","h":12.8,"v":-17.8},{"s":"R3","h":13,"v":-18.3},{"s":"R3","h":13.05,"v":-13.8},{"s":"R3","h":13.2,"v":-10.5},{"s":"R3","h":13.5,"v":-11},{"s":"R3","h":13.8,"v":-11.5},{"s":"R3","h":14,"v":-10.8},{"s":"R3","h":14.3,"v":-11.5},{"s":"R3","h":14.6,"v":-12},{"s":"R3","h":15,"v":-12},{"s":"R3","h":15.3,"v":-12.3},{"s":"R3","h":15.5,"v":-13},{"s":"R3","h":15.8,"v":-14},{"s":"R3","h":16,"v":-15.2},{"s":"R3","h":16.5,"v":-16},{"s":"R3","h":17,"v":-17.5},{"s":"R3","h":17.3,"v":-18.6},{"s":"R3","h":17.7,"v":-19.5},{"s":"R3","h":18.1,"v":-20.3},{"s":"R3","h":18.4,"v":-17.9},{"s":"R3","h":18.7,"v":-16.5},{"s":"R3","h":19.25,"v":-13.9},{"s":"R3","h":19.4,"v":-12.3},{"s":"R3","h":19.8,"v":-13.5},{"s":"R3","h":20.2,"v":-14.5},{"s":"R3","h":20.5,"v":-15.5},{"s":"R3","h":20.8,"v":-16.4},{"s":"R3","h":21,"v":-15},{"s":"R3","h":21.3,"v":-13},{"s":"R3","h":21.5,"v":-12.3},{"s":"R3","h":21.9,"v":-13},{"s":"R3","h":22.3,"v":-14},{"s":"R3","h":22.6,"v":-14.9},{"s":"R3","h":23.1,"v":-14.5},{"s":"R3","h":23.4,"v":-13.5},{"s":"R3","h":23.7,"v":-12.4},
{"s":"DR1","h":0,"v":0},{"s":"DR1","h":0.5,"v":-1},{"s":"DR1","h":0.8,"v":-0.7},{"s":"DR1","h":1,"v":-2},{"s":"DR1","h":1.5,"v":-2.5},{"s":"DR1","h":1.8,"v":-2.1},{"s":"DR1","h":2,"v":-3},{"s":"DR1","h":2.5,"v":-3.5},{"s":"DR1","h":3,"v":-4},{"s":"DR1","h":3.5,"v":-4.2},{"s":"DR1","h":4,"v":-5},{"s":"DR1","h":4.5,"v":-4.5},{"s":"DR1","h":5,"v":-3.5},{"s":"DR1","h":5.5,"v":-3},{"s":"DR1","h":6,"v":-2.5},{"s":"DR1","h":6.5,"v":-4},{"s":"DR1","h":7,"v":-4.5},{"s":"DR1","h":7.5,"v":-5.5},{"s":"DR1","h":8,"v":-6},{"s":"DR1","h":8.5,"v":-5.5},{"s":"DR1","h":9,"v":-5},{"s":"DR1","h":9.3,"v":-5.5},{"s":"DR1","h":9.7,"v":2.6},{"s":"DR1","h":10,"v":2},{"s":"DR1","h":10.5,"v":3.7},{"s":"DR1","h":10.8,"v":3.4},{"s":"DR1","h":11.2,"v":2.5},{"s":"DR1","h":11.5,"v":1.5},{"s":"DR1","h":11.8,"v":4.1},{"s":"DR1","h":12.2,"v":4.5},{"s":"DR1","h":12.5,"v":3.5},{"s":"DR1","h":13,"v":2.5},{"s":"DR1","h":13.5,"v":1.5},{"s":"DR1","h":14,"v":0.5},{"s":"DR1","h":14.5,"v":-0.5},{"s":"DR1","h":15,"v":-1.5},{"s":"DR1","h":15.5,"v":-2},{"s":"DR1","h":16,"v":-3},{"s":"DR1","h":16.5,"v":-3.7},{"s":"DR1","h":16.8,"v":-4.5},{"s":"DR1","h":17,"v":-1.5},{"s":"DR1","h":17.5,"v":-2.5},{"s":"DR1","h":18,"v":-3.5},{"s":"DR1","h":18.5,"v":-4.5},{"s":"DR1","h":19,"v":-6},{"s":"DR1","h":19.3,"v":-4},{"s":"DR1","h":19.7,"v":-4.5},{"s":"DR1","h":20,"v":-4.5},{"s":"DR1","h":20.3,"v":-4.3},{"s":"DR1","h":20.5,"v":-2},{"s":"DR1","h":20.8,"v":-2.2},{"s":"DR1","h":21.2,"v":-1.5},{"s":"DR1","h":21.6,"v":-2},{"s":"DR1","h":22,"v":-1.5},{"s":"DR1","h":22.2,"v":0.8},{"s":"DR1","h":22.5,"v":0},{"s":"DR1","h":23,"v":-1.2},{"s":"DR1","h":23.7,"v":-2.9},
{"s":"DR2","h":0,"v":0},{"s":"DR2","h":0.4,"v":-1.5},{"s":"DR2","h":0.7,"v":-1.2},{"s":"DR2","h":1,"v":-2},{"s":"DR2","h":1.3,"v":-2.6},{"s":"DR2","h":1.6,"v":-2.2},{"s":"DR2","h":2,"v":-3.2},{"s":"DR2","h":2.3,"v":-3},{"s":"DR2","h":2.6,"v":-4},{"s":"DR2","h":3,"v":-4.5},{"s":"DR2","h":3.3,"v":-4.1},{"s":"DR2","h":3.6,"v":-5.5},{"s":"DR2","h":4,"v":-6},{"s":"DR2","h":4.3,"v":-5.6},{"s":"DR2","h":4.6,"v":-6.5},{"s":"DR2","h":5,"v":-7},{"s":"DR2","h":5.3,"v":-6.6},{"s":"DR2","h":5.6,"v":-7.2},{"s":"DR2","h":6,"v":-7.5},{"s":"DR2","h":6.3,"v":-7.1},{"s":"DR2","h":6.6,"v":-8},{"s":"DR2","h":7,"v":-8.5},{"s":"DR2","h":7.3,"v":-8.2},{"s":"DR2","h":7.6,"v":-9},{"s":"DR2","h":8,"v":-9.5},{"s":"DR2","h":8.4,"v":-9.2},{"s":"DR2","h":8.7,"v":-9.8},{"s":"DR2","h":9,"v":-10},{"s":"DR2","h":9.4,"v":-9.7},{"s":"DR2","h":9.7,"v":-10.3},{"s":"DR2","h":10,"v":-9},{"s":"DR2","h":10.5,"v":-8},{"s":"DR2","h":11,"v":-8.5},{"s":"DR2","h":11.5,"v":-9.5},{"s":"DR2","h":12,"v":-9},{"s":"DR2","h":12.5,"v":-9.5},{"s":"DR2","h":13,"v":-10},{"s":"DR2","h":13.3,"v":-6},{"s":"DR2","h":13.6,"v":-6.5},{"s":"DR2","h":14,"v":-5.5},{"s":"DR2","h":14.5,"v":-6.5},{"s":"DR2","h":15,"v":-7.5},{"s":"DR2","h":15.5,"v":-9},{"s":"DR2","h":16,"v":-9.5},{"s":"DR2","h":16.5,"v":-10},{"s":"DR2","h":17,"v":-10.5},{"s":"DR2","h":17.5,"v":-10.5},{"s":"DR2","h":18,"v":-11},{"s":"DR2","h":18.3,"v":-10},{"s":"DR2","h":18.6,"v":-7},{"s":"DR2","h":19,"v":-4.5},{"s":"DR2","h":19.3,"v":-5.2},{"s":"DR2","h":19.6,"v":-4.7},{"s":"DR2","h":20,"v":-4.3},{"s":"DR2","h":20.4,"v":-4.7},{"s":"DR2","h":20.8,"v":-5.5},{"s":"DR2","h":21.2,"v":-7},{"s":"DR2","h":21.6,"v":-8},{"s":"DR2","h":22,"v":-8.8},{"s":"DR2","h":22.3,"v":-9.3},{"s":"DR2","h":22.5,"v":-10.1},{"s":"DR2","h":22.6,"v":-7},{"s":"DR2","h":22.7,"v":-4.2},{"s":"DR2","h":23,"v":-4.7},{"s":"DR2","h":23.3,"v":-4.3},{"s":"DR2","h":23.7,"v":-4.7},
{"s":"M1","h":0,"v":0},{"s":"M1","h":0.5,"v":-0.5},{"s":"M1","h":1,"v":-1},{"s":"M1","h":1.3,"v":-1.2},{"s":"M1","h":1.4,"v":5},{"s":"M1","h":1.5,"v":11},{"s":"M1","h":1.9,"v":10.5},{"s":"M1","h":2.2,"v":10},{"s":"M1","h":2.5,"v":9.8},{"s":"M1","h":2.8,"v":10.5},{"s":"M1","h":3.2,"v":9.5},{"s":"M1","h":3.5,"v":10.3},{"s":"M1","h":3.8,"v":9.5},{"s":"M1","h":4.1,"v":8},{"s":"M1","h":4.3,"v":5.5},{"s":"M1","h":4.4,"v":4.5},{"s":"M1","h":4.5,"v":7},{"s":"M1","h":4.6,"v":11.4},{"s":"M1","h":4.9,"v":11.6},{"s":"M1","h":5.2,"v":11},{"s":"M1","h":5.6,"v":11.2},{"s":"M1","h":6,"v":10.8},{"s":"M1","h":6.3,"v":10},{"s":"M1","h":6.7,"v":9},{"s":"M1","h":7,"v":8.3},{"s":"M1","h":7.3,"v":8.5},{"s":"M1","h":7.6,"v":8.8},{"s":"M1","h":7.9,"v":8.3},{"s":"M1","h":8.1,"v":8.8},{"s":"M1","h":8.3,"v":12.1},{"s":"M1","h":8.7,"v":14},{"s":"M1","h":9.1,"v":14.6},{"s":"M1","h":9.5,"v":13.8},{"s":"M1","h":9.9,"v":14.3},{"s":"M1","h":10.3,"v":13.5},{"s":"M1","h":10.7,"v":12.1},{"s":"M1","h":10.9,"v":13.6},{"s":"M1","h":11.3,"v":13},{"s":"M1","h":11.9,"v":12.3},{"s":"M1","h":12.1,"v":11.5},{"s":"M1","h":12.5,"v":10.8},{"s":"M1","h":13.3,"v":10.4},{"s":"M1","h":13.6,"v":11.2},{"s":"M1","h":13.8,"v":12.9},{"s":"M1","h":14.2,"v":12.3},{"s":"M1","h":14.8,"v":11},{"s":"M1","h":15.5,"v":9.5},{"s":"M1","h":16.1,"v":6.6},{"s":"M1","h":16.5,"v":7.5},{"s":"M1","h":17,"v":7.8},{"s":"M1","h":17.5,"v":8.2},{"s":"M1","h":18,"v":8},{"s":"M1","h":18.1,"v":12.1},{"s":"M1","h":18.5,"v":11.2},{"s":"M1","h":19,"v":10.5},{"s":"M1","h":19.3,"v":11},{"s":"M1","h":19.7,"v":10},{"s":"M1","h":20,"v":9.8},{"s":"M1","h":20.2,"v":13.9},{"s":"M1","h":20.4,"v":14.8},{"s":"M1","h":20.8,"v":14.5},{"s":"M1","h":21,"v":13.9},{"s":"M1","h":21.3,"v":14.5},{"s":"M1","h":21.6,"v":13.8},{"s":"M1","h":22,"v":13.5},{"s":"M1","h":22.2,"v":16.2},{"s":"M1","h":22.6,"v":15.5},{"s":"M1","h":23,"v":14.5},{"s":"M1","h":23.2,"v":13},{"s":"M1","h":23.4,"v":15.5},{"s":"M1","h":23.7,"v":15.8},
{"s":"M2","h":0,"v":1},{"s":"M2","h":0.3,"v":1.5},{"s":"M2","h":0.6,"v":1},{"s":"M2","h":1,"v":0},{"s":"M2","h":1.5,"v":-1},{"s":"M2","h":2,"v":-1.5},{"s":"M2","h":2.3,"v":4},{"s":"M2","h":2.5,"v":5.5},{"s":"M2","h":2.8,"v":4.8},{"s":"M2","h":3.2,"v":5.5},{"s":"M2","h":3.6,"v":5},{"s":"M2","h":4,"v":5.3},{"s":"M2","h":4.3,"v":4.5},{"s":"M2","h":4.6,"v":5.6},{"s":"M2","h":5,"v":5},{"s":"M2","h":5.5,"v":4},{"s":"M2","h":6,"v":3.5},{"s":"M2","h":6.5,"v":3},{"s":"M2","h":7,"v":1.5},{"s":"M2","h":7.5,"v":1},{"s":"M2","h":8,"v":0},{"s":"M2","h":8.5,"v":3},{"s":"M2","h":8.8,"v":3.8},{"s":"M2","h":9.2,"v":3},{"s":"M2","h":9.6,"v":2.5},{"s":"M2","h":10,"v":2},{"s":"M2","h":10.5,"v":1},{"s":"M2","h":10.9,"v":0},{"s":"M2","h":11,"v":3},{"s":"M2","h":11.2,"v":8.9},{"s":"M2","h":11.5,"v":9.5},{"s":"M2","h":11.9,"v":9.4},{"s":"M2","h":12.2,"v":10},{"s":"M2","h":12.6,"v":9.7},{"s":"M2","h":13,"v":8.5},{"s":"M2","h":13.5,"v":8},{"s":"M2","h":14,"v":7.5},{"s":"M2","h":14.3,"v":7},{"s":"M2","h":14.6,"v":7.3},{"s":"M2","h":14.9,"v":8.5},{"s":"M2","h":15.3,"v":8.3},{"s":"M2","h":15.7,"v":7.8},{"s":"M2","h":16,"v":7.3},{"s":"M2","h":16.3,"v":7.8},{"s":"M2","h":16.6,"v":7.5},{"s":"M2","h":17,"v":7.7},{"s":"M2","h":17.3,"v":6.5},{"s":"M2","h":17.6,"v":6},{"s":"M2","h":18,"v":5.5},{"s":"M2","h":18.5,"v":5},{"s":"M2","h":19,"v":4.5},{"s":"M2","h":19.5,"v":3},{"s":"M2","h":20,"v":2},{"s":"M2","h":20.5,"v":1.5},{"s":"M2","h":21,"v":1},{"s":"M2","h":21.5,"v":0},{"s":"M2","h":22,"v":-0.5},{"s":"M2","h":22.5,"v":-1},{"s":"M2","h":23,"v":-0.5},{"s":"M2","h":23.7,"v":-0.5},
{"s":"M3","h":0,"v":0},{"s":"M3","h":0.3,"v":-0.4},{"s":"M3","h":0.6,"v":-1.2},{"s":"M3","h":1,"v":-0.9},{"s":"M3","h":1.3,"v":-2},{"s":"M3","h":1.7,"v":-2.5},{"s":"M3","h":2,"v":-2.2},{"s":"M3","h":2.4,"v":-3.3},{"s":"M3","h":2.8,"v":-4},{"s":"M3","h":3.1,"v":-3.6},{"s":"M3","h":3.5,"v":-5},{"s":"M3","h":3.9,"v":-5.3},{"s":"M3","h":4.2,"v":-5},{"s":"M3","h":4.6,"v":-6.5},{"s":"M3","h":5,"v":-7},{"s":"M3","h":5.3,"v":-6.6},{"s":"M3","h":5.7,"v":-8},{"s":"M3","h":6,"v":-8.3},{"s":"M3","h":6.4,"v":-9.3},{"s":"M3","h":6.8,"v":-10.2},{"s":"M3","h":7.1,"v":-10},{"s":"M3","h":7.5,"v":-11.4},{"s":"M3","h":7.9,"v":-12},{"s":"M3","h":8.2,"v":-12.8},{"s":"M3","h":8.5,"v":-13.5},{"s":"M3","h":9,"v":-14.5},{"s":"M3","h":9.5,"v":-14},{"s":"M3","h":10,"v":-13.5},{"s":"M3","h":10.5,"v":-14.3},{"s":"M3","h":11,"v":-15.5},{"s":"M3","h":11.5,"v":-16.5},{"s":"M3","h":12,"v":-17.5},{"s":"M3","h":12.5,"v":-18.3},{"s":"M3","h":13,"v":-17.5},{"s":"M3","h":13.5,"v":-16.5},{"s":"M3","h":14,"v":-17.5},{"s":"M3","h":14.5,"v":-18.5},{"s":"M3","h":15,"v":-19},{"s":"M3","h":15.5,"v":-20.5},{"s":"M3","h":16,"v":-21.5},{"s":"M3","h":16.3,"v":-22.7},{"s":"M3","h":16.5,"v":-19.3},{"s":"M3","h":17,"v":-19},{"s":"M3","h":17.5,"v":-18.5},{"s":"M3","h":17.9,"v":-17.4},{"s":"M3","h":18.2,"v":-16},{"s":"M3","h":18.5,"v":-16.8},{"s":"M3","h":19,"v":-18},{"s":"M3","h":19.5,"v":-18.5},{"s":"M3","h":19.9,"v":-19.8},{"s":"M3","h":20.2,"v":-19},{"s":"M3","h":20.5,"v":-18.5},{"s":"M3","h":20.9,"v":-17.4},{"s":"M3","h":21.3,"v":-18},{"s":"M3","h":21.7,"v":-18.5},{"s":"M3","h":22.2,"v":-18},{"s":"M3","h":22.6,"v":-17.5},{"s":"M3","h":23,"v":-16.5},{"s":"M3","h":23.1,"v":-13.9},{"s":"M3","h":23.4,"v":-14},{"s":"M3","h":23.7,"v":-13},
{"s":"LB0","h":0,"v":0},{"s":"LB0","h":23.7,"v":0},
{"s":"C0","h":0,"v":0},{"s":"C0","h":15.3,"v":0}
]},
"mark":{"type":"line","clip":true},
"encoding":{
"x":{"field":"h","type":"quantitative","scale":{"domain":[0,23.7],"nice":false,"zero":false},"axis":{"orient":"bottom","values":[0,1,2,3,4,5,6,7,8,9,10,11,12,13,14,15,16,17,18,19,20,21,22,23],"labelPadding":9,"labelFlush":false,"labelOverlap":false,"title":"Hour of Day","titleBaseline":"middle","titleY":28}},
"y":{"field":"v","type":"quantitative","scale":{"domain":[-30,30],"nice":false,"zero":false},"axis":{"orient":"left","values":[-30,-20,-10,0,10,20,30],"labelPadding":16,"labelFlush":false,"title":"Cumulative (Z*Z)-1","titleBaseline":"middle","titleX":-38,"titleY":244,"titleAngle":-90}},
"color":{"field":"s","type":"nominal","legend":null,"scale":{"domain":["Y1","Y2","Y3","Y4","B1","B2","B3","LB1","LB2","C1","C2","C3","G1","G2","G4","R1","R2","R3","DR1","DR2","M1","M2","M3","LB0","C0"],"range":["#ffff00","#ffff00","#ffff00","#ffff00","#0000ff","#0000ff","#0000ff","#5858ff","#5858ff","#00ffff","#00ffff","#00ffff","#00a800","#00a800","#00a800","#ff0000","#ff0000","#ff0000","#b40000","#b40000","#ff55ff","#ff55ff","#ff55ff","#5858ff","#00ffff"]}},
"strokeWidth":{"field":"s","type":"nominal","legend":null,"scale":{"domain":["B1","R1"],"range":[1.8,1.8],"unknown":1.1}},
"order":{"field":"h","type":"quantitative"}
}},
{"data":{"values":[{"t":0},{"t":1},{"t":2},{"t":3},{"t":4},{"t":5},{"t":6},{"t":7},{"t":8},{"t":9},{"t":10},{"t":11},{"t":12},{"t":13},{"t":14},{"t":15},{"t":16},{"t":17},{"t":18},{"t":19},{"t":20},{"t":21},{"t":22},{"t":23}]},
"layer":[
{"mark":{"type":"rule","color":"black","strokeWidth":1},"encoding":{"x":{"field":"t","type":"quantitative","axis":null},"y":{"datum":-30,"type":"quantitative","axis":null},"y2":{"datum":-29.27}}},
{"mark":{"type":"rule","color":"black","strokeWidth":1},"encoding":{"x":{"field":"t","type":"quantitative","axis":null},"y":{"datum":30,"type":"quantitative","axis":null},"y2":{"datum":29.27}}}
]},
{"data":{"values":[{"u":-30},{"u":-20},{"u":-10},{"u":0},{"u":10},{"u":20},{"u":30}]},
"layer":[
{"mark":{"type":"rule","color":"black","strokeWidth":1},"encoding":{"y":{"field":"u","type":"quantitative","axis":null},"x":{"datum":0,"type":"quantitative","axis":null},"x2":{"datum":0.21}}},
{"mark":{"type":"rule","color":"black","strokeWidth":1},"encoding":{"y":{"field":"u","type":"quantitative","axis":null},"x":{"datum":23.7,"type":"quantitative","axis":null},"x2":{"datum":23.49}}}
]}
]
}
